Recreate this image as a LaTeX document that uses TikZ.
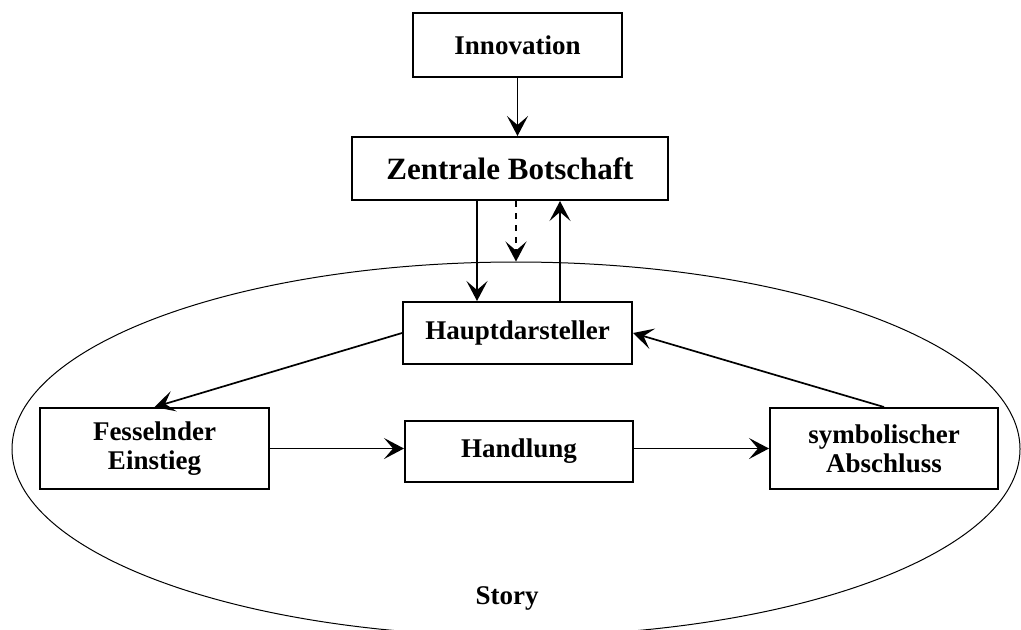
\documentclass[tikz,border=0pt]{standalone}
\usepackage{fontspec}
\setmainfont{Liberation Serif}
\usetikzlibrary{arrows.meta,shapes.geometric,calc}
\begin{document}
\begin{tikzpicture}[x=0.5pt,y=-0.5pt,
    box/.style={draw,line width=1pt,rectangle,inner sep=0pt,align=center,
      font=\bfseries\fontsize{13.5}{14.5}\selectfont},
    arr/.style={-{Stealth[length=10pt,width=10.5pt,inset=4.5pt]},line width=0.85pt}]
  \clip (0,0) rectangle (1021,629);
  \node[draw,ellipse,line width=0.5pt,inner sep=0pt,
    minimum width=504pt,minimum height=187pt] (storyell) at (516,449) {};
  \draw
    (517.5,45) node[box,minimum width=104.5pt,minimum height=32pt] (innov){Innovation}
    (510,168.5) node[box,minimum width=158pt,minimum height=31.5pt,
      font=\bfseries\fontsize{15.5}{17}\selectfont] (zentral){Zentrale Botschaft}
    (517.5,333) node[box,minimum width=114.5pt,minimum height=31pt] (haupt){Hauptdarsteller}
    (154.5,448.5) node[box,minimum width=114.5pt,minimum height=40.5pt] (fessel){Fesselnder\\Einstieg}
    (519,451.5) node[box,minimum width=114pt,minimum height=30.5pt] (handl){Handlung}
    (884,448.5) node[box,minimum width=114pt,minimum height=40.5pt] (symbol){symbolischer\\Abschluss}
    (507,598) node[font=\bfseries\fontsize{13.5}{14.5}\selectfont] (story){Story};
  \coordinate (down) at (477,0);
  \coordinate (up) at (560,0);
  \begin{scope}[arr]
    \draw (innov.south) -- (innov.south |- zentral.north);
    \draw (zentral.south -| down) -- (haupt.north -| down);
    \draw[dashed] (zentral.south -| storyell.north) -- (storyell.north);
    \draw (haupt.north -| up) -- (zentral.south -| up);
    \draw (haupt.west) -- (fessel.north);
    \draw (symbol.north) -- (haupt.east);
    \draw (fessel.east) -- (fessel.east -| handl.west);
    \draw (handl.east |- symbol.west) -- (symbol.west);
  \end{scope}
\end{tikzpicture}
\end{document}
